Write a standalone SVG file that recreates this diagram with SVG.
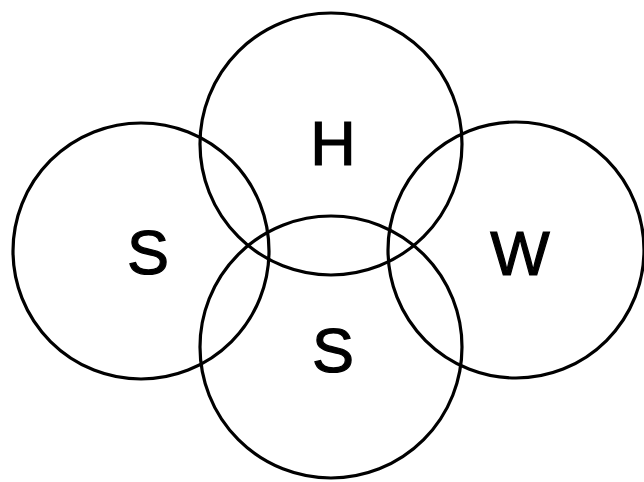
<svg xmlns="http://www.w3.org/2000/svg" width="644" height="482" viewBox="0 0 644 482">
<style>
.c{fill:none;stroke:#000;stroke-width:3.2}
.t{font-family:"Liberation Sans",Arial,sans-serif;font-size:63px;fill:#000;stroke:#000;stroke-width:1.2;text-anchor:middle}
</style>
<rect width="644" height="482" fill="#fff"/>
<g id="left"><circle class="c" cx="141" cy="251" r="128"/><text class="t" x="148" y="274">S</text></g>
<g id="top"><circle class="c" cx="331" cy="144" r="131"/><text class="t" x="333" y="165">H</text></g>
<g id="right"><circle class="c" cx="516" cy="250" r="128"/><text class="t" x="520" y="275">W</text></g>
<g id="bottom"><circle class="c" cx="331" cy="347" r="131"/><text class="t" x="333" y="372">S</text></g>
<g id="connectors"></g>
</svg>
